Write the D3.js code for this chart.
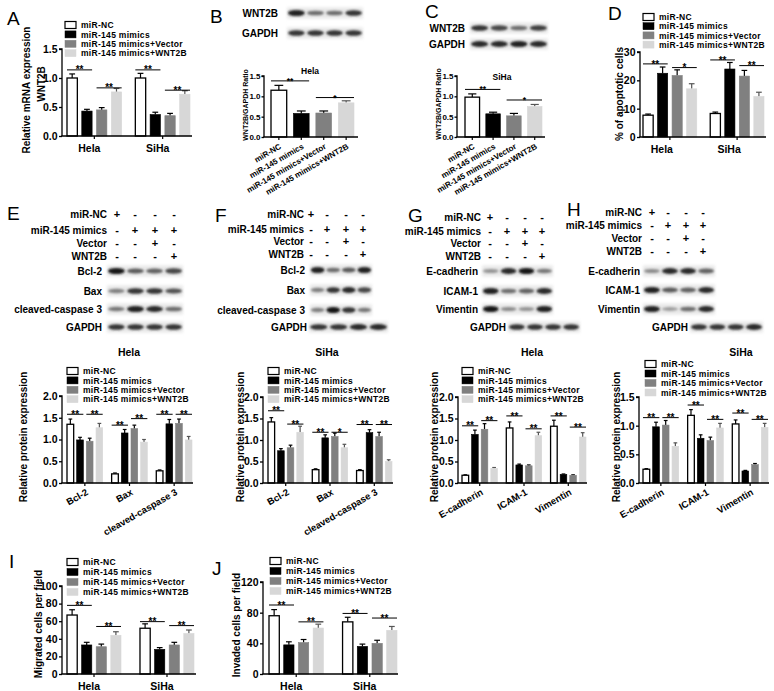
<!DOCTYPE html>
<html><head><meta charset="utf-8">
<script src="https://cdn.jsdelivr.net/npm/d3@7"></script>
<style>
body{margin:0;background:#fff}
svg text{font-family:"Liberation Sans",Arial,Helvetica,sans-serif;fill:#000}
</style>
</head><body>
<svg id="fig" width="774" height="691"></svg>
<script>
// ---------------- DATA ----------------
const seriesNames = ["miR-NC","miR-145 mimics","miR-145 mimics+Vector","miR-145 mimics+WNT2B"];
const cellLines = ["Hela","SiHa"];
const apopProteins = ["Bcl-2","Bax","cleaved-caspase 3"];
const emtProteins = ["E-cadherin","ICAM-1","Vimentin"];
const treatments = ["miR-NC","miR-145 mimics","Vector","WNT2B"];
const treatSigns = [["+","-","-","-"],["-","+","+","+"],["-","-","+","-"],["-","-","-","+"]];

// A: relative WNT2B mRNA
const aMean = [[1.00,0.43,0.45,0.76],[1.00,0.37,0.35,0.72]];
const aErr  = [[0.07,0.03,0.04,0.06],[0.08,0.04,0.04,0.06]];
const aSig  = [[0,0,1,1.14,"**"],[0,2,3,0.83,"**"],[1,0,1,1.14,"**"],[1,2,3,0.79,"**"]];
const ratioTicks = [0,0.5,1.0,1.5];

// B / C: WNT2B/GAPDH ratio
const bMean = [1.15,0.58,0.59,0.84];
const bErr  = [0.12,0.06,0.05,0.05];
const bSig  = [[0,0,1,1.38,"**"],[0,2,3,0.97,"*"]];
const bBandWNT2B = [0.9,0.5,0.5,0.8];
const bBandGAPDH = [0.8,0.8,0.8,0.8];
const cMean = [0.98,0.57,0.52,0.75];
const cErr  = [0.08,0.04,0.06,0.05];
const cSig  = [[0,0,1,1.17,"**"],[0,2,3,0.91,"*"]];
const cBandWNT2B = [0.8,0.7,0.5,0.75];
const cBandGAPDH = [0.85,0.85,0.9,0.85];

// D: % apoptotic cells
const dMean = [[7.7,22.5,21.7,17.0],[8.3,24.0,21.5,14.3]];
const dErr  = [[0.4,2.2,2.0,1.8],[0.5,2.3,2.0,1.5]];
const dSig  = [[0,0,1,25.8,"**"],[0,2,3,24.5,"*"],[1,0,1,27.2,"**"],[1,2,3,25.2,"**"]];
const dTicks = [0,10,20,30];

// E: Hela apoptosis proteins
const eMean = [[1.35,0.99,0.96,1.27],[0.21,1.15,1.25,0.94],[0.28,1.36,1.37,0.99]];
const eErr  = [[0.12,0.06,0.07,0.10],[0.02,0.08,0.08,0.06],[0.02,0.10,0.10,0.08]];
const eSig  = [[0,0,1,1.58,"**"],[0,2,3,1.58,"**"],[1,0,1,1.33,"**"],[1,2,3,1.48,"**"],[2,0,1,1.58,"**"],[2,2,3,1.58,"**"]];
const eBands = [[0.95,0.6,0.55,0.7],[0.4,0.8,0.8,0.65],[0.45,0.9,0.85,0.5],[0.8,0.8,0.8,0.8]];
// F: SiHa apoptosis proteins
const fMean = [[1.42,0.75,0.82,1.18],[0.31,1.05,1.08,0.82],[0.29,1.17,1.08,0.50]];
const fErr  = [[0.10,0.05,0.06,0.14],[0.02,0.07,0.08,0.08],[0.02,0.07,0.10,0.04]];
const fSig  = [[0,0,1,1.68,"**"],[0,2,3,1.37,"**"],[1,0,1,1.18,"**"],[1,2,3,1.18,"*"],[2,0,1,1.36,"**"],[2,2,3,1.36,"**"]];
const fBands = [[0.9,0.5,0.6,0.9],[0.4,0.8,0.85,0.7],[0.4,0.95,0.8,0.45],[0.8,0.8,0.85,0.85]];
// G: Hela EMT proteins
const gMean = [[0.18,1.13,1.25,0.34],[1.28,0.42,0.40,1.10],[1.32,0.20,0.18,1.07]];
const gErr  = [[0.01,0.10,0.13,0.02],[0.14,0.02,0.02,0.08],[0.14,0.01,0.01,0.10]];
const gSig  = [[0,0,1,1.33,"**"],[0,2,3,1.45,"**"],[1,0,1,1.56,"**"],[1,2,3,1.26,"**"],[2,0,1,1.56,"**"],[2,2,3,1.30,"**"]];
const gBands = [[0.3,0.85,0.95,0.45],[0.9,0.5,0.55,0.85],[0.95,0.35,0.3,0.9],[0.8,0.8,0.8,0.8]];
// H: SiHa EMT proteins
const hMean = [[0.24,0.98,1.01,0.64],[1.18,0.78,0.74,0.96],[1.03,0.21,0.32,0.97]];
const hErr  = [[0.01,0.08,0.08,0.06],[0.10,0.06,0.06,0.08],[0.07,0.01,0.02,0.07]];
const hSig  = [[0,0,1,1.14,"**"],[0,2,3,1.14,"**"],[1,0,1,1.36,"**"],[1,2,3,1.11,"**"],[2,0,1,1.22,"**"],[2,2,3,1.11,"**"]];
const hBands = [[0.35,0.85,0.85,0.55],[0.9,0.6,0.55,0.85],[0.9,0.25,0.5,0.85],[0.8,0.8,0.8,0.85]];
const proteinTicks = [0,0.5,1.0,1.5,2.0];

// I: migration, J: invasion
const iMean = [[67,33,31,44],[52,28,33,46]];
const iErr  = [[6,3,3,4],[5,2,3,4]];
const iSig  = [[0,0,1,78,"**"],[0,2,3,54,"**"],[1,0,1,59.5,"**"],[1,2,3,55,"**"]];
const iTicks = [0,20,40,60,80,100];
const jMean = [[76,38,41,60],[68,36,40,57]];
const jErr  = [[8,4,4,5],[6,3,4,5]];
const jSig  = [[0,0,1,90,"**"],[0,2,3,68,"**"],[1,0,1,79,"**"],[1,2,3,73,"**"]];
const jTicks = [0,40,80,120];

// ---------------- DRAWING ----------------
const svg = d3.select("#fig");
const FILLS = ["#ffffff","#000000","#808080","#d7d7d7"];
const defs = svg.append("defs");
defs.append("filter").attr("id","bb").attr("x","-30%").attr("y","-200%").attr("width","160%").attr("height","500%")
  .append("feGaussianBlur").attr("stdDeviation","0.9");
defs.append("filter").attr("id","bs").attr("x","-10%").attr("y","-100%").attr("width","120%").attr("height","300%")
  .append("feGaussianBlur").attr("stdDeviation","1.4");

function txt(g,t,x,y,fs,opt={}){
  const e=g.append("text").attr("x",x).attr("y",y).attr("font-size",fs).attr("fill","#000")
    .attr("font-weight",opt.normal?"normal":"bold").attr("text-anchor",opt.anchor||"start").text(t);
  if(opt.ls) e.attr("letter-spacing",opt.ls);
  if(opt.rot!==undefined) e.attr("transform",`rotate(${opt.rot},${x},${y})`);
  return e;
}

function letter(t,x,y){ txt(svg,t,x,y,19,{normal:true}); }

function barPanel(c){
  const g = svg.append("g");
  const y = d3.scaleLinear().domain([0,c.ymax]).range([c.yBottom,c.yTop]);
  const xg = d3.scaleBand().domain(c.groups).range(c.xRange).paddingInner(c.padG).paddingOuter(0);
  const xs = d3.scaleBand().domain(d3.range(4)).range([0,xg.bandwidth()]).paddingInner(c.padS);
  const bw = xs.bandwidth();
  c.groups.forEach((gn,gi)=>{
    c.mean[gi].forEach((v,si)=>{
      const bx = xg(gn)+xs(si);
      const cx = bx+bw/2, top = v + c.err[gi][si];
      const ec = si===3 ? "#555" : "#000";
      g.append("line").attr("x1",cx).attr("x2",cx).attr("y1",y(v)).attr("y2",y(top)).attr("stroke",ec).attr("stroke-width",1.2);
      g.append("line").attr("x1",cx-bw*0.28).attr("x2",cx+bw*0.28).attr("y1",y(top)).attr("y2",y(top)).attr("stroke",ec).attr("stroke-width",1.2);
      g.append("rect").attr("x",bx).attr("y",y(v)).attr("width",bw).attr("height",y(0)-y(v))
        .attr("fill",FILLS[si]).attr("stroke",si===0?"#000":FILLS[si]).attr("stroke-width",si===0?1.3:0.6);
    });
  });
  // significance
  c.sig.forEach(([gi,a,b,v,lab])=>{
    const x1 = xg(c.groups[gi])+xs(a), x2 = xg(c.groups[gi])+xs(b)+bw;
    g.append("line").attr("x1",x1).attr("x2",x2).attr("y1",y(v)).attr("y2",y(v)).attr("stroke","#000").attr("stroke-width",1);
    txt(g,lab,(x1+x2)/2,y(v)+c.sigFs*0.36,c.sigFs,{anchor:"middle"});
  });
  // y axis
  const ax = g.append("g").attr("transform",`translate(${c.xAxis},0)`)
    .call(d3.axisLeft(y).tickValues(c.ticks).tickSize(c.tickLen||3).tickPadding(c.tickPad||1.5).tickFormat(d3.format(c.fmt)));
  ax.selectAll("path,line").attr("stroke","#000").attr("stroke-width",1.3);
  ax.select("path").attr("d",`M-${c.tickLen||3},${c.yTop}H0V${c.yBottom}`);
  ax.selectAll("text").attr("font-size",c.tickFs).attr("font-weight","bold").attr("fill","#000")
    .attr("font-family",'"Liberation Sans",Arial,sans-serif');
  // x axis
  g.append("line").attr("x1",c.xAxis-0.6).attr("x2",c.axisEnd).attr("y1",c.yBottom).attr("y2",c.yBottom).attr("stroke","#000").attr("stroke-width",1.3);
  if(c.rotLabels){
    c.rotLabels.forEach((lab,si)=>{
      const cx = xg(c.groups[0])+xs(si)+bw/2;
      g.append("line").attr("x1",cx).attr("x2",cx).attr("y1",c.yBottom).attr("y2",c.yBottom+3).attr("stroke","#000").attr("stroke-width",1.2);
      txt(g,lab,cx+c.rotDx,c.yBottom+c.rotDy,c.rotFs,{anchor:"end",rot:-30});
    });
  } else {
    c.groups.forEach(gn=>{
      const cx = xg(gn)+xg.bandwidth()/2;
      g.append("line").attr("x1",cx).attr("x2",cx).attr("y1",c.yBottom).attr("y2",c.yBottom+3).attr("stroke","#000").attr("stroke-width",1.2);
      if(c.rotCats) txt(g,gn,cx+c.rotDx,c.yBottom+c.rotDy,c.catFs,{anchor:"end",rot:-30});
      else txt(g,gn,cx+c.catDx,c.yBottom+16,c.catFs,{anchor:"middle"});
    });
  }
  // y label
  c.ylab.forEach(l=>txt(g,l.t,l.x,l.y,c.ylabFs,{anchor:"middle",rot:-90}));
  if(c.title) txt(g,c.title.t,c.title.x,c.title.y,c.title.fs,{anchor:"middle"});
  if(c.legend){
    seriesNames.forEach((s,si)=>{
      const ly = c.legend.y + si*c.legend.dy;
      g.append("rect").attr("x",c.legend.x).attr("y",ly-3.5).attr("width",11).attr("height",7)
        .attr("fill",FILLS[si]).attr("stroke",si===0?"#000":FILLS[si]).attr("stroke-width",si===0?1.2:0.5);
      txt(g,s,c.legend.x+16,ly+3.1,8.5,{ls:0.3});
    });
  }
}

function blotRow(r){
  txt(svg,r.label,r.right,r.y+3.6,r.fs||10,{anchor:"end"});
  svg.append("rect").attr("x",r.x0).attr("y",r.y-5.5).attr("width",r.x1-r.x0).attr("height",11)
    .attr("fill","#e8e8e8").attr("filter","url(#bs)");
  const lane = d3.scaleBand().domain(d3.range(r.vals.length)).range([r.x0,r.x1]).paddingInner(0.12).paddingOuter(0.05);
  r.vals.forEach((v,i)=>{
    const gv = Math.round(205 - v*190);
    svg.append("ellipse").attr("cx",lane(i)+lane.bandwidth()/2).attr("cy",r.y)
      .attr("rx",lane.bandwidth()/2).attr("ry",1.5+v*1.7)
      .attr("fill",d3.rgb(gv,gv,gv)).attr("filter","url(#bb)");
  });
}

function treatTable(t){
  treatments.forEach((name,ri)=>{
    txt(svg,name,t.right,t.ys[ri],10,{anchor:"end"});
    treatSigns[ri].forEach((s,ci)=>txt(svg,s,t.cols[ci],t.ys[ri],11,{anchor:"middle"}));
  });
}
function westernPanel(names,bands,rows,gapdh){
  names.forEach((n,i)=>blotRow({label:n,y:rows.ys[i],right:rows.right,x0:rows.x0,x1:rows.x1,vals:bands[i]}));
  blotRow({label:"GAPDH",y:gapdh.y,right:gapdh.right,x0:gapdh.x0,x1:gapdh.x1,vals:bands[3]});
}

// ---- Panel letters
letter("A",7,25); letter("B",210,23); letter("C",425,18); letter("D",608,20);
letter("E",7,220); letter("F",215,222); letter("G",408,222); letter("H",567,215.5);
letter("I",9,568); letter("J",212,575);

// ---- A
barPanel({groups:cellLines,mean:aMean,err:aErr,sig:aSig,ymax:1.5,ticks:ratioTicks,fmt:".1f",
  yBottom:136,yTop:49,xAxis:62,xRange:[67,190],axisEnd:192,padG:0.2,padS:0.3,
  tickFs:10.5,catFs:10.5,catDx:-5,sigFs:10,ylabFs:10,
  ylab:[{t:"Relative mRNA expression",x:30,y:90},{t:"WNT2B",x:45,y:84}],
  legend:{x:65,y:25,dy:9.4}});

// ---- B
blotRow({label:"WNT2B",y:13,right:278,x0:287,x1:363,vals:bBandWNT2B});
blotRow({label:"GAPDH",y:33,right:278,x0:287,x1:363,vals:bBandGAPDH});
barPanel({groups:["Hela"],mean:[bMean],err:[bErr],sig:bSig,ymax:1.5,ticks:ratioTicks,fmt:".1f",
  yBottom:137,yTop:76,xAxis:264,xRange:[271,354],axisEnd:358,padG:0,padS:0.3,
  tickFs:8,tickLen:2.5,tickPad:1,sigFs:8.5,ylabFs:7,rotLabels:seriesNames,rotFs:8,rotDx:3,rotDy:11,
  ylab:[{t:"WNT2B/GAPDH Ratio",x:248,y:105}],title:{t:"Hela",x:310,y:74,fs:8.5}});

// ---- C
blotRow({label:"WNT2B",y:28,right:465,x0:470,x1:548,vals:cBandWNT2B});
blotRow({label:"GAPDH",y:44,right:465,x0:470,x1:548,vals:cBandGAPDH});
barPanel({groups:["SiHa"],mean:[cMean],err:[cErr],sig:cSig,ymax:1.5,ticks:ratioTicks,fmt:".1f",
  yBottom:137,yTop:76,xAxis:457,xRange:[465,542],axisEnd:545,padG:0,padS:0.3,
  tickFs:8,tickLen:2.5,tickPad:1,sigFs:8.5,ylabFs:7,rotLabels:seriesNames,rotFs:8,rotDx:3,rotDy:11,
  ylab:[{t:"WNT2B/GAPDH Ratio",x:441,y:104}],title:{t:"SiHa",x:502,y:80,fs:8.5}});

// ---- D
barPanel({groups:cellLines,mean:dMean,err:dErr,sig:dSig,ymax:30,ticks:dTicks,fmt:"d",
  yBottom:137,yTop:52,xAxis:640,xRange:[643,764],axisEnd:766,padG:0.2,padS:0.3,
  tickFs:10.5,catFs:10.5,catDx:-8,sigFs:10,ylabFs:10,
  ylab:[{t:"% of apoptotic cells",x:623,y:94}],legend:{x:643,y:17,dy:9.2}});

// ---- E
treatTable({right:107,cols:[117,135,155,174],ys:[218,234,247,260]});
westernPanel(apopProteins,eBands,{ys:[271,291,309],right:102,x0:107,x1:183},{y:327,right:102,x0:107,x1:183});
barPanel({groups:apopProteins,mean:eMean,err:eErr,sig:eSig,ymax:2,ticks:proteinTicks,fmt:".1f",
  yBottom:483,yTop:396,xAxis:62,xRange:[67,192],axisEnd:193,padG:0.2,padS:0.31,
  tickFs:10.5,catFs:9.5,rotCats:true,rotDx:4,rotDy:11,sigFs:10,ylabFs:10,
  ylab:[{t:"Relative protein expression",x:27,y:437}],title:{t:"Hela",x:129,y:356,fs:10.5},
  legend:{x:67,y:371,dy:9.4}});

// ---- F
treatTable({right:304,cols:[311,327,346,363],ys:[218,233,245,258]});
westernPanel(apopProteins,fBands,{ys:[270,290,310],right:305,x0:310,x1:372},{y:327,right:307,x0:309,x1:388});
barPanel({groups:apopProteins,mean:fMean,err:fErr,sig:fSig,ymax:2,ticks:proteinTicks,fmt:".1f",
  yBottom:483,yTop:397,xAxis:263,xRange:[268,392],axisEnd:393,padG:0.2,padS:0.31,
  tickFs:10.5,catFs:9.5,rotCats:true,rotDx:4,rotDy:11,sigFs:10,ylabFs:10,
  ylab:[{t:"Relative protein expression",x:244,y:437}],title:{t:"SiHa",x:327,y:356,fs:10.5},
  legend:{x:268,y:371,dy:9.4}});

// ---- G
treatTable({right:481,cols:[490,507,525,542],ys:[221,235,247,260]});
westernPanel(emtProteins,gBands,{ys:[271,291,309],right:478,x0:482,x1:553},{y:327,right:506,x0:508,x1:580});
barPanel({groups:emtProteins,mean:gMean,err:gErr,sig:gSig,ymax:2,ticks:proteinTicks,fmt:".1f",
  yBottom:483,yTop:397,xAxis:458,xRange:[462,586],axisEnd:587,padG:0.2,padS:0.31,
  tickFs:10.5,catFs:9.5,rotCats:true,rotDx:4,rotDy:11,sigFs:10,ylabFs:10,
  ylab:[{t:"Relative protein expression",x:438,y:437}],title:{t:"Hela",x:532,y:356,fs:10.5},
  legend:{x:462,y:371,dy:9.4}});

// ---- H
treatTable({right:642,cols:[652,668,686,703],ys:[216,229,242,255]});
westernPanel(emtProteins,hBands,{ys:[271,290,309],right:640,x0:643,x1:715},{y:327,right:688,x0:690,x1:763});
barPanel({groups:emtProteins,mean:hMean,err:hErr,sig:hSig,ymax:1.5,ticks:ratioTicks,fmt:".1f",
  yBottom:483,yTop:397,xAxis:639,xRange:[643,768],axisEnd:769,padG:0.2,padS:0.31,
  tickFs:10.5,catFs:9.5,rotCats:true,rotDx:4,rotDy:11,sigFs:10,ylabFs:10,
  ylab:[{t:"Relative protein expression",x:620,y:437}],title:{t:"SiHa",x:741,y:356,fs:10.5},
  legend:{x:645,y:364,dy:9.5}});

// ---- I
barPanel({groups:cellLines,mean:iMean,err:iErr,sig:iSig,ymax:100,ticks:iTicks,fmt:"d",
  yBottom:674,yTop:586,xAxis:62,xRange:[67,194],axisEnd:196,padG:0.26,padS:0.3,
  tickFs:10.5,catFs:10.5,catDx:-5,sigFs:10,ylabFs:10,
  ylab:[{t:"Migrated cells per field",x:42,y:624}],legend:{x:67,y:562,dy:10}});

// ---- J
barPanel({groups:cellLines,mean:jMean,err:jErr,sig:jSig,ymax:120,ticks:jTicks,fmt:"d",
  yBottom:674,yTop:582,xAxis:263,xRange:[269,397],axisEnd:398,padG:0.26,padS:0.3,
  tickFs:10.5,catFs:10.5,catDx:-5,sigFs:10,ylabFs:10,
  ylab:[{t:"Invaded cells per field",x:240,y:625}],legend:{x:270,y:561,dy:10}});
</script>
</body></html>
